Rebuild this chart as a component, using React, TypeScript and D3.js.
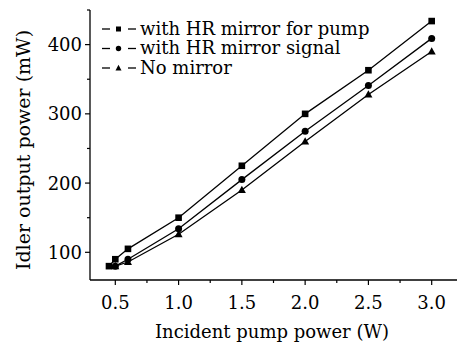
import React from "react";
import * as d3 from "d3";

const xPump = [0.45, 0.5, 0.6, 1.0, 1.5, 2.0, 2.5, 3.0];
const yPump = [80, 90, 105, 150, 225, 300, 363, 434];
const xSignal = [0.5, 0.6, 1.0, 1.5, 2.0, 2.5, 3.0];
const ySignal = [80, 90, 134, 205, 275, 341, 409];
const xNone = [0.5, 0.6, 1.0, 1.5, 2.0, 2.5, 3.0];
const yNone = [80, 86, 126, 190, 260, 328, 390];
const seriesNames = ["with HR mirror for pump", "with HR mirror signal", "No mirror"];
const xTicks = [0.5, 1.0, 1.5, 2.0, 2.5, 3.0];
const xMinor = [0.75, 1.25, 1.75, 2.25, 2.75];
const yTicks = [100, 200, 300, 400];
const yMinor = [150, 250, 350, 450];

const W = 458, H = 343;
const left = 90, right = 457, top = 10, bottom = 280;
const FONT = "DejaVu Serif";

export default function App() {
  const x = d3.scaleLinear().domain([0.3, 3.2]).range([left, right]);
  const y = d3.scaleLinear().domain([60, 450]).range([bottom, top]);
  const line = d3.line<[number, number]>().x(d => x(d[0])).y(d => y(d[1]));
  const series = [
    { xs: xNone, ys: yNone, shape: "tri" },
    { xs: xSignal, ys: ySignal, shape: "circ" },
    { xs: xPump, ys: yPump, shape: "sq" },
  ];
  const marker = (shape: string, cx: number, cy: number, key: string) => {
    if (shape === "sq") return <rect key={key} x={cx - 3.3} y={cy - 3.3} width={6.6} height={6.6} fill="#000" />;
    if (shape === "circ") return <circle key={key} cx={cx} cy={cy} r={3.5} fill="#000" />;
    return <path key={key} d={`M${cx},${cy - 4.2} L${cx + 4},${cy + 3} L${cx - 4},${cy + 3} Z`} fill="#000" />;
  };
  const legendShapes = ["sq", "circ", "tri"];
  return (
    <svg width={W} height={H} style={{ position: "absolute", left: 0, top: 0, background: "#fff" }}>
      {series.map((s, i) => (
        <g key={i}>
          <path d={line(s.xs.map((v, j) => [v, s.ys[j]]) as [number, number][]) || ""} fill="none" stroke="#000" strokeWidth={1.3} />
          {s.xs.map((v, j) => marker(s.shape, x(v), y(s.ys[j]), `${i}-${j}`))}
        </g>
      ))}
      <line x1={left} x2={left} y1={top} y2={bottom} stroke="#000" strokeWidth={1.3} />
      <line x1={left} x2={right} y1={bottom} y2={bottom} stroke="#000" strokeWidth={1.3} />
      {xTicks.map(t => (
        <g key={`xt${t}`}>
          <line x1={x(t)} x2={x(t)} y1={bottom} y2={bottom + 5} stroke="#000" strokeWidth={1.2} />
          <text x={x(t)} y={bottom + 29} textAnchor="middle" fontFamily={FONT} fontSize={18}>{t.toFixed(1)}</text>
        </g>
      ))}
      {xMinor.map(t => (
        <line key={`xm${t}`} x1={x(t)} x2={x(t)} y1={bottom} y2={bottom + 3} stroke="#000" strokeWidth={1.2} />
      ))}
      {yTicks.map(t => (
        <g key={`yt${t}`}>
          <line x1={left} x2={left - 5} y1={y(t)} y2={y(t)} stroke="#000" strokeWidth={1.2} />
          <text x={left - 8} y={y(t) + 6.5} textAnchor="end" fontFamily={FONT} fontSize={18}>{t}</text>
        </g>
      ))}
      {yMinor.map(t => (
        <line key={`ym${t}`} x1={left} x2={left - 3} y1={y(t)} y2={y(t)} stroke="#000" strokeWidth={1.2} />
      ))}
      <text x={272} y={338} textAnchor="middle" fontFamily={FONT} fontSize={18}>Incident pump power (W)</text>
      <text transform={`translate(30,${(top + bottom) / 2 + 5}) rotate(-90)`} textAnchor="middle" fontFamily={FONT} fontSize={19}>Idler output power (mW)</text>
      {seriesNames.map((n, i) => {
        const cy = 29 + i * 19.5;
        return (
          <g key={n}>
            <line x1={102} x2={110} y1={cy} y2={cy} stroke="#000" strokeWidth={1.3} />
            <line x1={128} x2={136} y1={cy} y2={cy} stroke="#000" strokeWidth={1.3} />
            {legendShapes[i] === "sq" ? <rect x={116} y={cy - 2.5} width={5} height={5} fill="#000" /> :
              legendShapes[i] === "circ" ? <circle cx={118.5} cy={cy} r={2.7} fill="#000" /> :
                <path d={`M118.5,${cy - 3.2} L121.5,${cy + 2.4} L115.5,${cy + 2.4} Z`} fill="#000" />}
            <text x={140} y={cy + 5.5} fontFamily={FONT} fontSize={18}>{n}</text>
          </g>
        );
      })}
    </svg>
  );
}
